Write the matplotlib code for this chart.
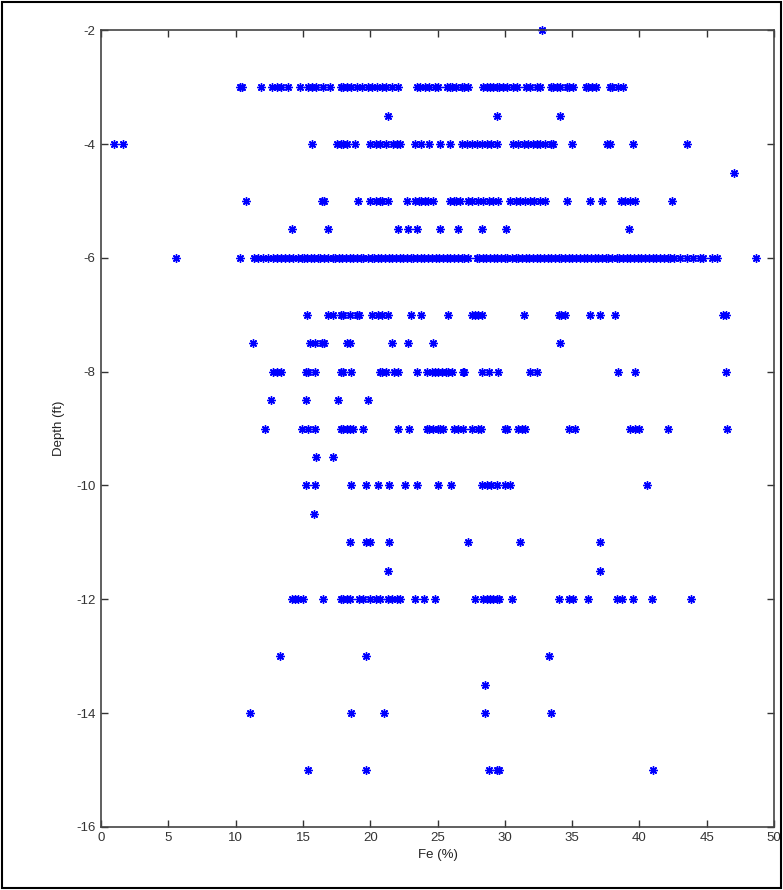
import matplotlib
matplotlib.use("Agg")
import matplotlib.pyplot as plt
from matplotlib.patches import Rectangle

plt.rcParams['font.family'] = ['Liberation Sans', 'DejaVu Sans']
plt.rcParams['axes.unicode_minus'] = False

# Fe (%) readings grouped by sample depth (ft)
FE_M2 = [32.8]
FE_M3 = [10.3, 10.5, 11.9, 12.7, 13.1, 13.4, 13.9, 14.8, 15.4, 15.7, 16.0, 16.5,
         17.0, 17.8, 18.0, 18.3, 18.6, 19.0, 19.4, 19.8, 20.1, 20.5, 20.9, 21.2,
         21.6, 22.1, 23.5, 23.7, 24.1, 24.4, 24.8, 25.0, 25.7, 25.9, 26.1, 26.4,
         26.8, 27.0, 27.3, 28.4, 28.7, 28.9, 29.1, 29.4, 29.6, 29.9, 30.2, 30.6,
         30.9, 31.6, 31.9, 32.4, 32.6, 33.4, 33.6, 33.9, 34.1, 34.6, 34.8, 35.1,
         36.0, 36.2, 36.5, 36.8, 37.8, 38.0, 38.4, 38.8]
FE_M3_5 = [21.3, 29.4, 34.1]
FE_M4 = [1.0, 1.6, 15.7, 17.5, 17.8, 18.0, 18.3, 18.9, 20.0, 20.4, 20.7, 21.2,
         21.7, 22.0, 22.2, 23.3, 23.8, 24.4, 25.2, 25.9, 26.8, 27.2, 27.6, 27.9,
         28.3, 28.7, 29.0, 29.4, 30.6, 31.0, 31.4, 31.7, 32.1, 32.4, 32.6, 33.0,
         33.4, 33.6, 35.0, 37.6, 37.8, 39.5, 43.5]
FE_M4_5 = [47.0]
FE_M5 = [10.8, 16.4, 16.6, 19.1, 20.0, 20.4, 20.7, 20.9, 21.3, 22.7, 23.3, 23.6,
         23.8, 24.1, 24.3, 24.7, 25.9, 26.2, 26.4, 26.7, 27.3, 27.6, 28.0, 28.4,
         28.8, 29.1, 29.5, 30.4, 30.8, 31.1, 31.5, 31.9, 32.2, 32.6, 33.0, 34.6,
         36.3, 37.2, 38.6, 38.9, 39.3, 39.7, 42.4]
FE_M5_5 = [14.2, 16.9, 22.1, 22.8, 23.5, 25.2, 26.5, 28.3, 30.1, 39.2]
FE_M6 = [5.6, 10.3, 11.4, 11.7, 12.0, 12.4, 12.8, 13.1, 13.4, 13.7, 14.0, 14.3,
         14.6, 14.9, 15.1, 15.3, 15.6, 15.8, 16.1, 16.3, 16.6, 16.9, 17.2, 17.4,
         17.7, 17.9, 18.2, 18.5, 18.7, 19.0, 19.3, 19.5, 19.8, 20.1, 20.3, 20.6,
         20.8, 21.1, 21.4, 21.6, 21.9, 22.2, 22.4, 22.7, 23.0, 23.2, 23.5, 23.8,
         24.0, 24.3, 24.6, 24.9, 25.1, 25.4, 25.7, 25.9, 26.2, 26.5, 26.8, 27.0,
         27.3, 27.9, 28.1, 28.4, 28.6, 28.9, 29.2, 29.4, 29.7, 30.0, 30.2, 30.5,
         30.8, 31.0, 31.3, 31.6, 31.8, 32.1, 32.4, 32.6, 32.9, 33.2, 33.4, 33.7,
         34.0, 34.2, 34.5, 34.8, 35.0, 35.3, 35.6, 35.9, 36.1, 36.4, 36.7, 36.9,
         37.2, 37.5, 37.7, 38.0, 38.3, 38.5, 38.8, 39.1, 39.3, 39.6, 39.9, 40.1,
         40.4, 40.7, 41.0, 41.2, 41.5, 41.8, 42.1, 42.3, 42.6, 43.0, 43.5, 44.0,
         44.5, 44.7, 45.4, 45.8, 48.7]
FE_M7 = [15.3, 16.9, 17.2, 17.8, 18.0, 18.5, 19.0, 19.2, 20.1, 20.6, 20.9, 21.3,
         23.0, 23.8, 25.8, 27.6, 27.8, 28.0, 28.3, 31.4, 34.0, 34.2, 34.5, 36.3,
         37.1, 38.2, 46.2, 46.4]
FE_M7_5 = [11.3, 15.5, 15.9, 16.4, 16.6, 18.3, 18.5, 21.6, 22.8, 24.7, 34.1]
FE_M8 = [12.8, 13.1, 13.4, 15.2, 15.4, 15.9, 17.8, 18.0, 18.6, 20.7, 20.9, 21.2,
         21.8, 22.1, 23.5, 24.2, 24.6, 24.8, 25.0, 25.3, 25.6, 25.8, 26.1, 26.9,
         27.0, 28.3, 28.8, 29.5, 31.9, 32.4, 38.4, 39.7, 46.4]
FE_M8_5 = [12.6, 15.2, 17.6, 19.8]
FE_M9 = [12.2, 14.9, 15.4, 15.9, 17.8, 18.0, 18.3, 18.5, 18.7, 19.5, 22.1, 22.9,
         24.2, 24.4, 24.7, 25.0, 25.2, 25.4, 26.2, 26.5, 26.9, 27.6, 28.0, 28.2,
         30.0, 30.2, 31.0, 31.3, 31.5, 34.8, 35.2, 39.3, 39.7, 40.0, 42.1, 46.5]
FE_M9_5 = [16.0, 17.2]
FE_M10 = [15.2, 15.9, 18.6, 19.7, 20.6, 21.4, 22.6, 23.5, 25.0, 26.0, 28.3, 28.7,
          29.0, 29.4, 30.0, 30.4, 40.6]
FE_M10_5 = [15.8]
FE_M11 = [18.5, 19.7, 20.0, 21.4, 27.3, 31.1, 37.1]
FE_M11_5 = [21.3, 37.1]
FE_M12 = [14.2, 14.4, 14.6, 15.0, 16.5, 17.8, 18.0, 18.3, 18.5, 19.2, 19.5, 20.0,
          20.4, 20.7, 21.3, 21.6, 22.0, 22.2, 23.3, 24.0, 24.8, 27.8, 28.4, 28.7,
          28.9, 29.1, 29.4, 29.6, 30.5, 34.0, 34.8, 35.1, 36.2, 38.3, 38.7, 39.5,
          40.9, 43.8]
FE_M13 = [13.3, 19.7, 33.3]
FE_M13_5 = [28.5]
FE_M14 = [11.1, 18.6, 21.0, 28.5, 33.4]
FE_M15 = [15.4, 19.7, 28.8, 29.4, 29.6, 41.0]

DEPTHS = [-2, -3, -3.5, -4, -4.5, -5, -5.5, -6, -7, -7.5, -8, -8.5, -9, -9.5,
          -10, -10.5, -11, -11.5, -12, -13, -13.5, -14, -15]
FE_ROWS = [FE_M2, FE_M3, FE_M3_5, FE_M4, FE_M4_5, FE_M5, FE_M5_5, FE_M6, FE_M7,
           FE_M7_5, FE_M8, FE_M8_5, FE_M9, FE_M9_5, FE_M10, FE_M10_5, FE_M11,
           FE_M11_5, FE_M12, FE_M13, FE_M13_5, FE_M14, FE_M15]

fe = []
depth = []
for d, row in zip(DEPTHS, FE_ROWS):
    fe.extend(row)
    depth.extend([d] * len(row))

fig = plt.figure(figsize=(7.83, 8.9), dpi=100)
ax = fig.add_axes([0.129, 0.071, 0.8595, 0.895])

# eight-armed asterisk, like the MATLAB '*' marker
ax.plot(fe, depth, linestyle="none", marker=(8, 2, 0), color="#0000ff",
        markersize=6, markeredgewidth=1.0, clip_on=False)

ax.set_xlim(0, 50)
ax.set_ylim(-16, -2)
ax.set_xticks(range(0, 51, 5))
ax.set_yticks(range(-16, -1, 2))
ax.tick_params(direction="in", top=True, right=True, length=5, width=1,
               labelsize=9.5, colors="#333333", pad=4)
for s in ax.spines.values():
    s.set_color("#444444")
    s.set_linewidth(1.2)

ax.set_xlabel("Fe (%)", fontsize=9.5, color="#222222", labelpad=3)
ax.set_ylabel("Depth (ft)", fontsize=9.5, color="#222222", labelpad=8)

# thin frame around the whole figure
fig.patches.append(Rectangle((0.002, 0.002), 0.996, 0.996, transform=fig.transFigure,
                             fill=False, edgecolor="black", linewidth=1.5))

fig.savefig("out.png", dpi=100)
